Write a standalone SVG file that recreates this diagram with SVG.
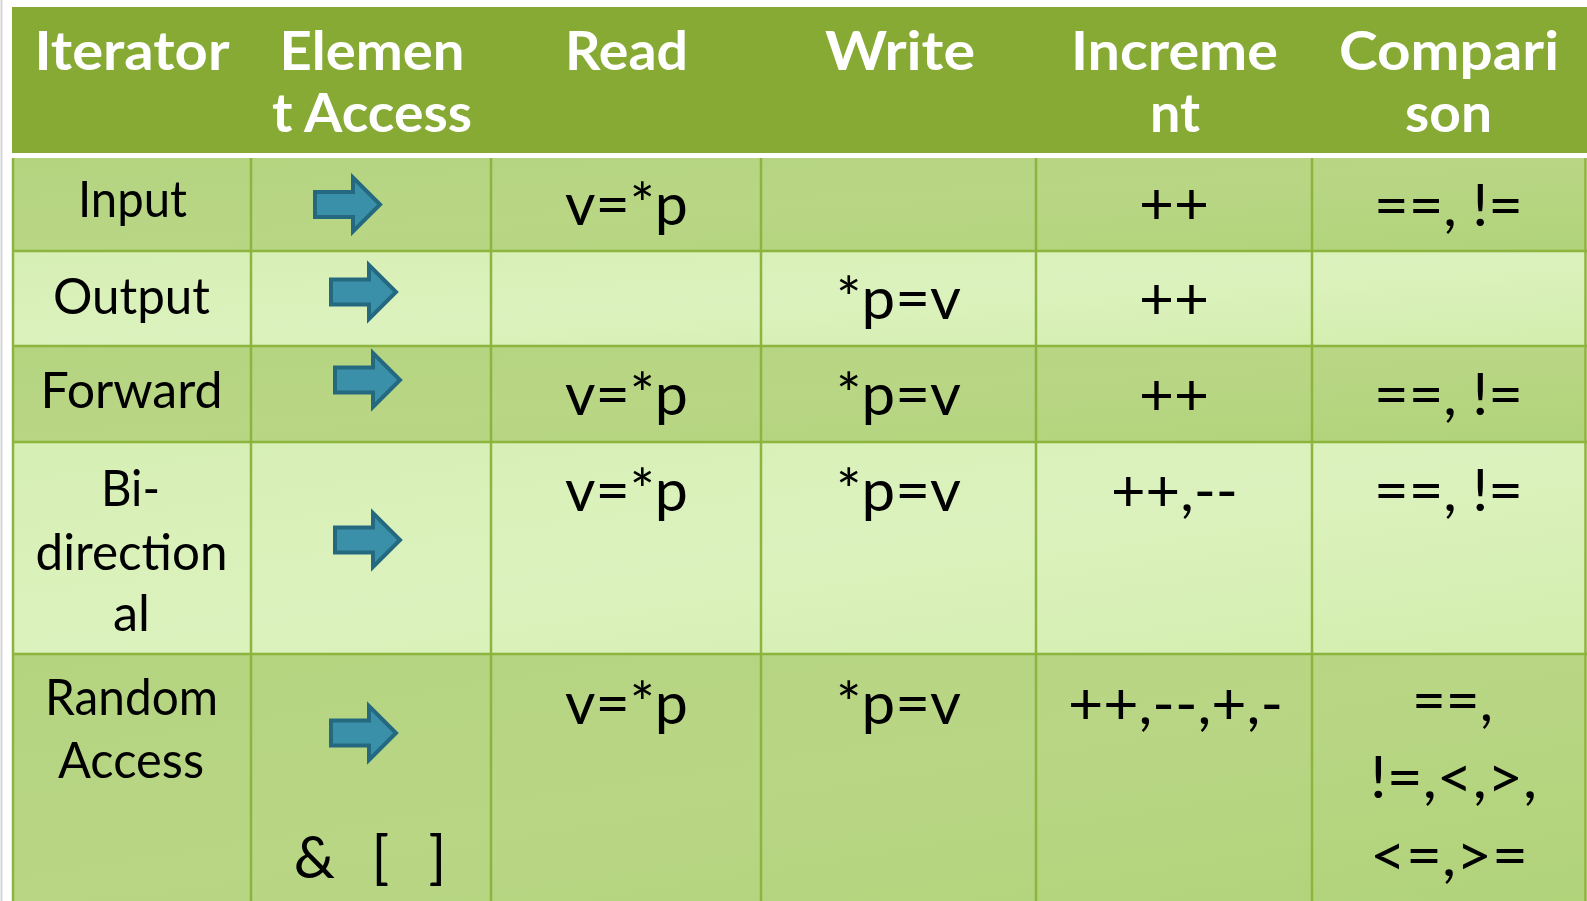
<svg xmlns="http://www.w3.org/2000/svg" xmlns:xlink="http://www.w3.org/1999/xlink" width="1587" height="901" viewBox="0 0 1587 901">
<defs>
<style>
.hd{font-family:Lato,"Open Sans","Liberation Sans",sans-serif;font-weight:bold;font-size:53px;fill:#ffffff;text-anchor:middle}
.lb{font-family:Lato,"Open Sans","Liberation Sans",sans-serif;font-size:50px;fill:#000000;text-anchor:middle}
.big{font-family:Lato,"Open Sans","Liberation Sans",sans-serif;font-size:58px;fill:#000000;text-anchor:middle}
.dark{fill:url(#gDark)}
.light{fill:url(#gLight)}
.grid{stroke:#8db43c;stroke-width:2.5;fill:none}
.arr{fill:#3a90a8;stroke:#24697f;stroke-width:4;stroke-linejoin:miter}
</style>
<linearGradient id="gDark" x1="0" y1="0" x2="1" y2="1">
<stop offset="0" stop-color="#b4d480"/>
<stop offset="0.5" stop-color="#b9d685"/>
<stop offset="1" stop-color="#b1d37a"/>
</linearGradient>
<linearGradient id="gLight" x1="0" y1="0" x2="1" y2="1">
<stop offset="0" stop-color="#d6efb4"/>
<stop offset="0.5" stop-color="#dcf2be"/>
<stop offset="1" stop-color="#d3eeae"/>
</linearGradient>
<path id="arrow" class="arr" d="M2,-12.5 H40 V-27 L67,0 L40,27 V12.5 H2 Z"/>
</defs>
<rect x="0" y="0" width="1587" height="901" fill="#ffffff"/>
<line x1="1.5" y1="0" x2="1.5" y2="901" stroke="#d6d6d6" stroke-width="2"/>

<g id="table-bg">
<rect x="12" y="7" width="1575" height="146" fill="#86aa34"/>
<rect x="12" y="153" width="1575" height="5" fill="#ffffff"/>
<rect class="dark" x="12" y="158" width="1574" height="93"/>
<rect class="light" x="12" y="251" width="1574" height="95"/>
<rect class="dark" x="12" y="346" width="1574" height="96"/>
<rect class="light" x="12" y="442" width="1574" height="212"/>
<rect class="dark" x="12" y="654" width="1574" height="247"/>
</g>

<g id="grid">
<path class="grid" d="M13,158 V901 M251,158 V901 M491,158 V901 M761,158 V901 M1036,158 V901 M1312,158 V901 M1585.5,158 V901"/>
<path class="grid" d="M12,251 H1587 M12,346 H1587 M12,442 H1587 M12,654 H1587"/>
</g>

<g id="header">
<text class="hd" x="132" y="70" textLength="195" lengthAdjust="spacingAndGlyphs">Iterator</text>
<text class="hd" x="372" y="70" textLength="185" lengthAdjust="spacingAndGlyphs">Elemen</text>
<text class="hd" x="372" y="132" textLength="200" lengthAdjust="spacingAndGlyphs">t Access</text>
<text class="hd" x="626.5" y="70" textLength="123" lengthAdjust="spacingAndGlyphs">Read</text>
<text class="hd" x="900" y="70" textLength="150" lengthAdjust="spacingAndGlyphs">Write</text>
<text class="hd" x="1174.5" y="70" textLength="207" lengthAdjust="spacingAndGlyphs">Increme</text>
<text class="hd" x="1175" y="132" textLength="50" lengthAdjust="spacingAndGlyphs">nt</text>
<text class="hd" x="1449" y="70" textLength="220" lengthAdjust="spacingAndGlyphs">Compari</text>
<text class="hd" x="1448.5" y="132" textLength="87" lengthAdjust="spacingAndGlyphs">son</text>
</g>

<g id="row-input">
<text class="lb" x="132.5" y="217" textLength="109" lengthAdjust="spacingAndGlyphs">Input</text>
<use xlink:href="#arrow" x="313" y="204.5"/>
<text class="big" x="626.5" y="225" textLength="123" lengthAdjust="spacingAndGlyphs">v=*p</text>
<text class="big" x="1174" y="224" textLength="70" lengthAdjust="spacingAndGlyphs">++</text>
<text class="big" x="1448.5" y="226" textLength="149" lengthAdjust="spacingAndGlyphs">==, !=</text>
</g>

<g id="row-output">
<text class="lb" x="131.5" y="314" textLength="157" lengthAdjust="spacingAndGlyphs">Output</text>
<use xlink:href="#arrow" x="329" y="292"/>
<text class="big" x="898.5" y="319" textLength="125" lengthAdjust="spacingAndGlyphs">*p=v</text>
<text class="big" x="1174" y="319" textLength="70" lengthAdjust="spacingAndGlyphs">++</text>
</g>

<g id="row-forward">
<text class="lb" x="131.5" y="408" textLength="182" lengthAdjust="spacingAndGlyphs">Forward</text>
<use xlink:href="#arrow" x="333" y="380"/>
<text class="big" x="626.5" y="415" textLength="123" lengthAdjust="spacingAndGlyphs">v=*p</text>
<text class="big" x="898.5" y="415" textLength="125" lengthAdjust="spacingAndGlyphs">*p=v</text>
<text class="big" x="1174" y="415" textLength="70" lengthAdjust="spacingAndGlyphs">++</text>
<text class="big" x="1448.5" y="415" textLength="149" lengthAdjust="spacingAndGlyphs">==, !=</text>
</g>

<g id="row-bidirectional">
<text class="lb" x="130.5" y="506" textLength="59" lengthAdjust="spacingAndGlyphs">Bi-</text>
<text class="lb" x="131.5" y="570" textLength="192" lengthAdjust="spacingAndGlyphs">direction</text>
<text class="lb" x="131.5" y="631" textLength="37" lengthAdjust="spacingAndGlyphs">al</text>
<use xlink:href="#arrow" x="333" y="540"/>
<text class="big" x="626.5" y="511" textLength="123" lengthAdjust="spacingAndGlyphs">v=*p</text>
<text class="big" x="898.5" y="511" textLength="125" lengthAdjust="spacingAndGlyphs">*p=v</text>
<text class="big" x="1174.5" y="511" textLength="127" lengthAdjust="spacingAndGlyphs">++,--</text>
<text class="big" x="1448.5" y="511" textLength="149" lengthAdjust="spacingAndGlyphs">==, !=</text>
</g>

<g id="row-random">
<text class="lb" x="131.5" y="715" textLength="173" lengthAdjust="spacingAndGlyphs">Random</text>
<text class="lb" x="131" y="778" textLength="146" lengthAdjust="spacingAndGlyphs">Access</text>
<use xlink:href="#arrow" x="329" y="733"/>
<text class="big" x="314.5" y="878"><tspan x="314.5">&amp;</tspan><tspan x="373"> [</tspan><tspan x="430"> ]</tspan></text>
<text class="big" x="626.5" y="724" textLength="123" lengthAdjust="spacingAndGlyphs">v=*p</text>
<text class="big" x="898.5" y="724" textLength="125" lengthAdjust="spacingAndGlyphs">*p=v</text>
<text class="big" x="1175.5" y="724" textLength="215" lengthAdjust="spacingAndGlyphs">++,--,+,-</text>
<text class="big" x="1452.5" y="721" textLength="81" lengthAdjust="spacingAndGlyphs">==,</text>
<text class="big" x="1453.5" y="798" textLength="167" lengthAdjust="spacingAndGlyphs">!=,&lt;,&gt;,</text>
<text class="big" x="1449" y="876" textLength="158" lengthAdjust="spacingAndGlyphs">&lt;=,&gt;=</text>
</g>
</svg>
